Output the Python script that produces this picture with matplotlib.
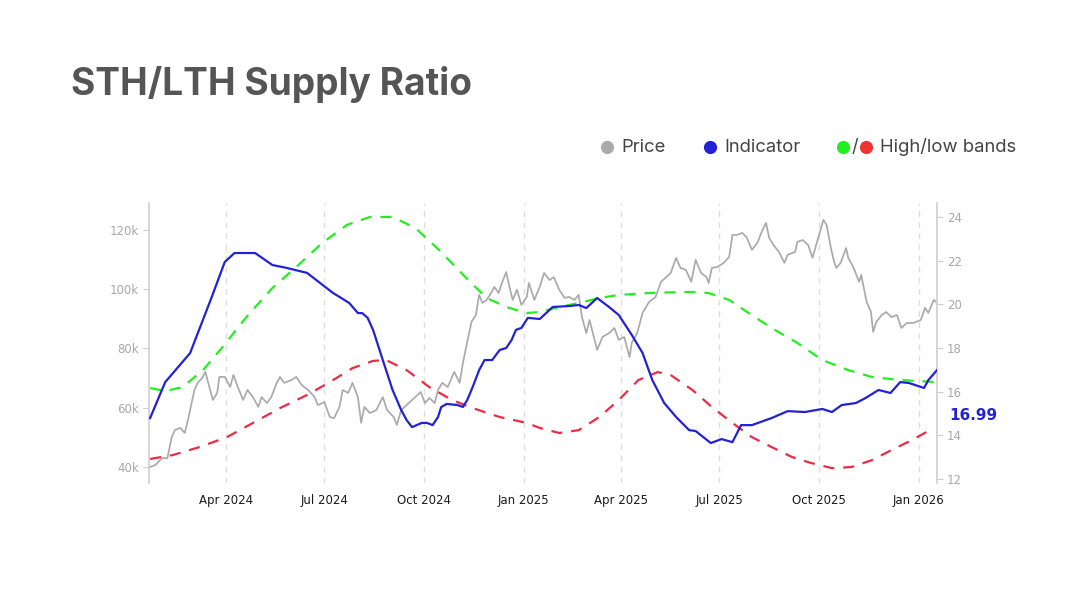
import matplotlib
matplotlib.use("Agg")
import matplotlib.pyplot as plt
import pandas as pd
from matplotlib.lines import Line2D

# ---------------- data ----------------
price_dates = [
    "2024-01-22", "2024-01-27", "2024-02-02", "2024-02-07", "2024-02-11", "2024-02-14", "2024-02-19",
    "2024-02-23", "2024-02-26", "2024-03-01", "2024-03-03", "2024-03-06", "2024-03-10", "2024-03-13",
    "2024-03-17", "2024-03-20", "2024-03-24", "2024-03-26", "2024-03-31", "2024-04-05", "2024-04-08",
    "2024-04-12", "2024-04-17", "2024-04-21", "2024-04-26", "2024-05-01", "2024-05-04", "2024-05-09",
    "2024-05-13", "2024-05-18", "2024-05-21", "2024-05-25", "2024-06-01", "2024-06-05", "2024-06-10",
    "2024-06-16", "2024-06-22", "2024-06-25", "2024-07-01", "2024-07-06", "2024-07-10", "2024-07-15",
    "2024-07-18", "2024-07-23", "2024-07-27", "2024-08-01", "2024-08-04", "2024-08-07", "2024-08-12",
    "2024-08-18", "2024-08-24", "2024-08-28", "2024-09-03", "2024-09-06", "2024-09-10", "2024-09-17",
    "2024-09-23", "2024-09-28", "2024-10-02", "2024-10-06", "2024-10-11", "2024-10-14", "2024-10-18",
    "2024-10-23", "2024-10-29", "2024-11-03", "2024-11-06", "2024-11-09", "2024-11-14", "2024-11-18",
    "2024-11-21", "2024-11-24", "2024-11-28", "2024-12-02", "2024-12-05", "2024-12-09", "2024-12-12",
    "2024-12-16", "2024-12-19", "2024-12-22", "2024-12-26", "2024-12-30", "2025-01-04", "2025-01-06",
    "2025-01-11", "2025-01-16", "2025-01-20", "2025-01-25", "2025-01-29", "2025-02-03", "2025-02-08",
    "2025-02-12", "2025-02-17", "2025-02-21", "2025-02-24", "2025-02-28", "2025-03-03", "2025-03-07",
    "2025-03-10", "2025-03-15", "2025-03-21", "2025-03-26", "2025-03-30", "2025-04-04", "2025-04-09",
    "2025-04-11", "2025-04-16", "2025-04-21", "2025-04-27", "2025-05-03", "2025-05-08", "2025-05-13",
    "2025-05-17", "2025-05-22", "2025-05-26", "2025-05-31", "2025-06-05", "2025-06-09", "2025-06-14",
    "2025-06-19", "2025-06-21", "2025-06-24", "2025-06-29", "2025-07-05", "2025-07-10", "2025-07-13",
    "2025-07-17", "2025-07-22", "2025-07-26", "2025-07-31", "2025-08-05", "2025-08-09", "2025-08-13",
    "2025-08-16", "2025-08-20", "2025-08-25", "2025-08-30", "2025-09-02", "2025-09-09", "2025-09-11",
    "2025-09-16", "2025-09-21", "2025-09-25", "2025-10-01", "2025-10-05", "2025-10-08", "2025-10-12",
    "2025-10-15", "2025-10-17", "2025-10-21", "2025-10-26", "2025-10-28", "2025-11-02", "2025-11-07",
    "2025-11-09", "2025-11-14", "2025-11-18", "2025-11-20", "2025-11-23", "2025-11-28", "2025-12-02",
    "2025-12-07", "2025-12-12", "2025-12-16", "2025-12-21", "2025-12-27", "2026-01-03", "2026-01-07",
    "2026-01-10", "2026-01-15", "2026-01-18",
]
price_values_k = [
    40.0, 40.7, 43.0, 43.0, 50.1, 52.5, 53.2,
    51.5, 55.9, 62.6, 66.0, 68.4, 70.0, 72.1,
    66.7, 62.6, 65.0, 70.4, 70.4, 67.0, 71.1,
    67.0, 62.6, 66.0, 63.6, 60.3, 63.6, 61.6,
    63.6, 68.4, 70.4, 68.4, 69.4, 70.4, 67.7,
    66.0, 63.6, 60.9, 61.9, 56.9, 56.5, 60.3,
    66.0, 65.0, 68.4, 63.6, 54.9, 60.3, 58.2,
    59.2, 63.6, 59.2, 56.9, 54.2, 59.2, 61.6,
    63.6, 65.3, 61.6, 63.3, 61.6, 66.0, 68.4,
    67.0, 72.1, 68.4, 75.1, 80.5, 89.0, 91.3,
    98.1, 95.4, 96.4, 98.7, 100.8, 98.7, 102.1,
    105.8, 100.8, 96.4, 99.8, 94.7, 97.4, 102.1,
    96.4, 100.8, 105.5, 103.1, 104.1, 99.8, 97.1,
    97.4, 96.4, 98.1, 90.6, 85.2, 89.6, 83.9,
    79.5, 83.9, 85.2, 86.9, 82.9, 83.9, 77.1,
    81.9, 85.2, 92.0, 95.7, 97.4, 102.5, 104.1,
    105.5, 110.6, 107.2, 106.5, 102.5, 109.9, 105.5,
    104.1, 102.1, 107.2, 107.5, 108.9, 110.9, 118.3,
    118.3, 119.0, 117.6, 113.3, 115.6, 119.3, 122.4,
    117.3, 114.9, 112.6, 108.9, 111.6, 112.6, 116.0,
    116.6, 114.9, 110.6, 118.3, 123.4, 121.7, 113.9,
    109.2, 107.2, 108.9, 113.9, 110.6, 107.2, 102.5,
    104.8, 95.7, 92.3, 85.6, 89.0, 91.3, 92.3,
    90.6, 91.3, 86.9, 88.6, 88.6, 89.6, 93.7,
    92.0, 96.4, 95.4,
]

indicator_dates = [
    "2024-01-22", "2024-02-05", "2024-02-28", "2024-03-19", "2024-03-31", "2024-04-09", "2024-04-28",
    "2024-05-14", "2024-05-27", "2024-06-15", "2024-07-09", "2024-07-15", "2024-07-24", "2024-08-01",
    "2024-08-05", "2024-08-10", "2024-08-15", "2024-08-24", "2024-09-02", "2024-09-10", "2024-09-15",
    "2024-09-20", "2024-09-29", "2024-10-04", "2024-10-09", "2024-10-14", "2024-10-17", "2024-10-22",
    "2024-11-01", "2024-11-06", "2024-11-10", "2024-11-15", "2024-11-21", "2024-11-26", "2024-12-03",
    "2024-12-10", "2024-12-16", "2024-12-21", "2024-12-25", "2024-12-30", "2025-01-05", "2025-01-16",
    "2025-01-28", "2025-02-12", "2025-02-21", "2025-02-28", "2025-03-10", "2025-03-21", "2025-03-30",
    "2025-04-11", "2025-04-21", "2025-04-30", "2025-05-11", "2025-05-22", "2025-06-03", "2025-06-09",
    "2025-06-23", "2025-07-03", "2025-07-13", "2025-07-21", "2025-07-31", "2025-08-18", "2025-09-02",
    "2025-09-18", "2025-10-04", "2025-10-13", "2025-10-22", "2025-11-04", "2025-11-13", "2025-11-25",
    "2025-12-06", "2025-12-15", "2025-12-23", "2026-01-06", "2026-01-10", "2026-01-18",
]
indicator_values = [
    14.79, 16.44, 17.77, 20.34, 21.94, 22.35, 22.35,
    21.80, 21.67, 21.44, 20.52, 20.34, 20.06, 19.60,
    19.60, 19.38, 18.83, 17.45, 16.08, 15.16, 14.70,
    14.38, 14.57, 14.57, 14.47, 14.84, 15.30, 15.44,
    15.39, 15.30, 15.62, 16.21, 16.99, 17.45, 17.45,
    17.91, 18.00, 18.37, 18.83, 18.92, 19.38, 19.33,
    19.88, 19.92, 19.97, 19.83, 20.29, 19.88, 19.51,
    18.60, 17.77, 16.53, 15.48, 14.84, 14.24, 14.20,
    13.65, 13.83, 13.69, 14.47, 14.47, 14.79, 15.11,
    15.07, 15.21, 15.07, 15.39, 15.48, 15.71, 16.08,
    15.94, 16.44, 16.40, 16.17, 16.53, 16.99,
]

high_band_dates = [
    "2024-01-22", "2024-02-05", "2024-02-21", "2024-03-11", "2024-03-29", "2024-04-20", "2024-05-14",
    "2024-06-05", "2024-06-29", "2024-07-22", "2024-08-12", "2024-09-02", "2024-09-23", "2024-10-15",
    "2024-11-09", "2024-11-28", "2024-12-16", "2025-01-04", "2025-01-16", "2025-02-03", "2025-02-21",
    "2025-03-12", "2025-03-30", "2025-04-27", "2025-06-03", "2025-06-21", "2025-07-10", "2025-07-28",
    "2025-08-18", "2025-09-11", "2025-10-04", "2025-10-28", "2025-11-19", "2025-12-14", "2026-01-17",
]
high_band_values = [
    16.17, 16.03, 16.21, 16.99, 18.05, 19.42, 20.75,
    21.71, 22.81, 23.64, 24.00, 24.00, 23.50, 22.49,
    21.21, 20.29, 19.88, 19.60, 19.65, 19.88, 20.06,
    20.29, 20.43, 20.52, 20.57, 20.52, 20.20, 19.60,
    18.92, 18.23, 17.45, 16.99, 16.67, 16.54, 16.44,
]

low_band_dates = [
    "2024-01-22", "2024-02-12", "2024-03-08", "2024-04-02", "2024-04-26", "2024-05-21", "2024-06-15",
    "2024-07-06", "2024-07-27", "2024-08-15", "2024-08-27", "2024-09-15", "2024-10-06", "2024-10-27",
    "2024-11-15", "2024-12-10", "2025-01-04", "2025-01-16", "2025-02-03", "2025-02-21", "2025-03-12",
    "2025-03-30", "2025-04-17", "2025-05-05", "2025-05-17", "2025-06-06", "2025-06-24", "2025-07-13",
    "2025-07-31", "2025-08-18", "2025-09-06", "2025-09-24", "2025-10-13", "2025-10-31", "2025-11-19",
    "2025-12-07", "2025-12-26", "2026-01-15",
]
low_band_values = [
    12.92, 13.10, 13.47, 13.92, 14.57, 15.25, 15.85,
    16.44, 17.08, 17.41, 17.45, 16.99, 16.21, 15.62,
    15.25, 14.84, 14.57, 14.34, 14.11, 14.24, 14.84,
    15.62, 16.53, 16.90, 16.76, 16.08, 15.30, 14.57,
    13.92, 13.47, 13.01, 12.73, 12.50, 12.55, 12.87,
    13.33, 13.79, 14.34,
]

x_tick_dates = ["2024-04-01", "2024-07-01", "2024-10-01", "2025-01-01",
                "2025-04-01", "2025-07-01", "2025-10-01", "2026-01-01"]
x_tick_labels = ["Apr 2024", "Jul 2024", "Oct 2024", "Jan 2025",
                 "Apr 2025", "Jul 2025", "Oct 2025", "Jan 2026"]
price_ticks = [40, 60, 80, 100, 120]
price_tick_labels = ["40k", "60k", "80k", "100k", "120k"]
ratio_ticks = [12, 14, 16, 18, 20, 22, 24]
last_value_label = "16.99"
title_text = "STH/LTH Supply Ratio"
legend_labels = ["Price", "Indicator", "High/low bands"]

# ---------------- colors ----------------
C_PRICE = "#aaaaaa"
C_IND = "#2222d4"
C_HIGH = "#22ee22"
C_LOW = "#ee2b44"
C_AXIS = "#cfcfcf"
C_TICKLBL = "#a8a8a8"

W, H = 1082, 591
fig = plt.figure(figsize=(W / 100, H / 100), dpi=100)
fig.patch.set_facecolor("white")

ax = fig.add_axes([149 / W, 1 - 483 / H, (937 - 149) / W, (483 - 203) / H])
ax2 = ax.twinx()

pdates = pd.to_datetime(price_dates)
ax.plot(pdates, price_values_k, color=C_PRICE, lw=1.25, zorder=2)

ax2.plot(pd.to_datetime(high_band_dates), high_band_values, color=C_HIGH, lw=1.6,
         linestyle=(0, (5, 4)), zorder=2)
ax2.plot(pd.to_datetime(low_band_dates), low_band_values, color=C_LOW, lw=1.6,
         linestyle=(0, (5, 4)), zorder=2)
ax2.plot(pd.to_datetime(indicator_dates), indicator_values, color=C_IND, lw=1.6, zorder=3)

ax.set_xlim(pd.Timestamp("2024-01-21"), pd.Timestamp("2026-01-18"))
ax.set_ylim(34.6, 129.1)
ax2.set_ylim(11.82, 24.64)

# spines
for s in ["top", "bottom", "right"]:
    ax.spines[s].set_visible(False)
for s in ["top", "bottom", "left"]:
    ax2.spines[s].set_visible(False)
ax.spines["left"].set_color(C_AXIS)
ax2.spines["right"].set_color(C_AXIS)
ax.spines["left"].set_linewidth(1.2)
ax2.spines["right"].set_linewidth(1.2)

# ticks
ax.set_xticks(pd.to_datetime(x_tick_dates))
ax.set_xticklabels(x_tick_labels)
ax.tick_params(axis="x", length=0, pad=8, labelsize=8.5, labelcolor="#1a1a1a")
ax.set_yticks(price_ticks)
ax.set_yticklabels(price_tick_labels)
ax.tick_params(axis="y", length=4, color=C_AXIS, labelcolor=C_TICKLBL, labelsize=8.5, pad=3)
ax2.set_yticks(ratio_ticks)
ax2.set_yticklabels([str(t) for t in ratio_ticks])
ax2.tick_params(axis="y", length=4, color=C_AXIS, labelcolor=C_TICKLBL, labelsize=8.5, pad=3)

ax.grid(axis="x", linestyle=(0, (4, 4)), color="#dddddd", lw=1.0)
ax.grid(axis="y", visible=False)
ax.set_facecolor("none")
ax2.set_facecolor("none")

# last value label
fig.text(949 / W, 1 - 415 / H, last_value_label, color=C_IND, fontsize=11,
         fontweight="bold", ha="left", va="center", family="DejaVu Sans")

# title
fig.text(71 / W, 1 - 85 / H, title_text, fontsize=26.7, fontweight="bold",
         color="#555555", ha="left", va="center", family="Inter")

# legend
ly = 1 - 147 / H
def dot(xpx, color):
    fig.add_artist(Line2D([xpx / W], [ly], marker="o", markersize=9.5, color=color,
                          markeredgewidth=0, transform=fig.transFigure))

LFS = 13.3
dot(607, C_PRICE)
fig.text(621 / W, ly, legend_labels[0], fontsize=LFS, color="#444444", ha="left",
         va="center", family="Inter")
dot(710, C_IND)
fig.text(724 / W, ly, legend_labels[1], fontsize=LFS, color="#444444", ha="left",
         va="center", family="Inter")
dot(843, C_HIGH)
fig.text(854.5 / W, ly, "/", fontsize=LFS, color="#444444", ha="center", va="center", family="Inter")
dot(866, "#ee3333")
fig.text(880 / W, ly, legend_labels[2], fontsize=LFS, color="#444444", ha="left",
         va="center", family="Inter")

fig.savefig("out.png", dpi=100, facecolor="white")
